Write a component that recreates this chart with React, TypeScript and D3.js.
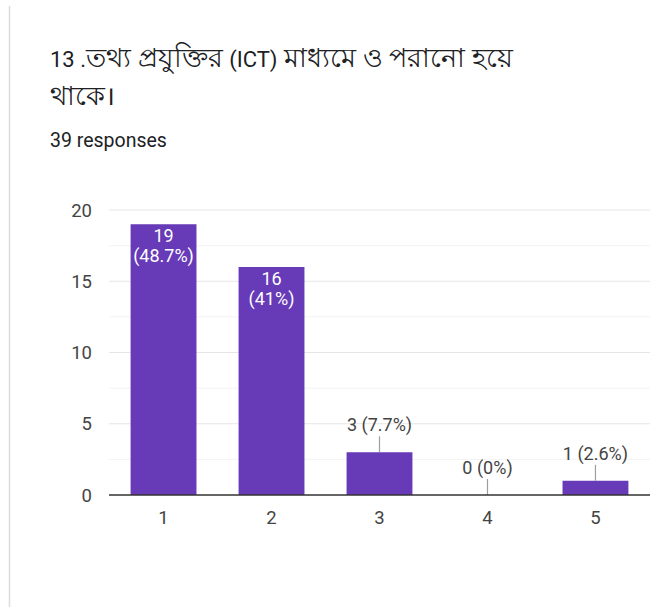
import React from "react";
import * as d3 from "d3";

const categories = ["1", "2", "3", "4", "5"];
const counts = [19, 16, 3, 0, 1];
const percents = ["48.7%", "41%", "7.7%", "0%", "2.6%"];
const yTicks = [0, 5, 10, 15, 20];
// title parts: [text, isBengali]
const titleLine1: [string, boolean][] = [
  ["13 .", false],
  ["তথ্য প্রযুক্তির ", true],
  ["(ICT)", false],
  [" মাধ্যমে ও পরানো হয়ে", true],
];
const titleLine2 = "থাকে।";
const responsesText = "39 responses";

const W = 659;
const H = 607;
const plot = { left: 109, right: 650, top: 210, bottom: 495 };
const FONT = "Roboto, 'Noto Sans', sans-serif";

export default function App() {
  const x = d3
    .scaleBand<string>()
    .domain(categories)
    .range([plot.left, plot.right])
    .paddingInner(0.39)
    .paddingOuter(0.2);
  const y = d3.scaleLinear().domain([0, 20]).range([plot.bottom, plot.top]);
  const minorTicks = d3.range(2.5, 20, 5);

  return (
    <svg
      width={W}
      height={H}
      style={{ position: "absolute", left: 0, top: 0, background: "#fff" }}
      fontFamily={FONT}
    >
      <rect x={0} y={0} width={W} height={H} fill="#fff" />
      <line x1={9.5} x2={9.5} y1={6} y2={H} stroke="#dadce0" strokeWidth={1.5} />
      <text x={50} y={67} fill="#202124">
        {titleLine1.map(([t, bn], i) => (
          <tspan key={i} fontSize={bn ? 26.5 : 22}>{t}</tspan>
        ))}
      </text>
      <text x={50} y={105} fontSize={26.5} fill="#202124">{titleLine2}</text>
      <text x={50} y={147} fontSize={19.5} fill="#202124">{responsesText}</text>

      {minorTicks.map((t) => (
        <line key={"m" + t} x1={plot.left} x2={plot.right} y1={y(t)} y2={y(t)} stroke="#f3f3f3" />
      ))}
      {yTicks.map((t) => (
        <g key={"t" + t}>
          {t > 0 && (
            <line x1={plot.left} x2={plot.right} y1={y(t)} y2={y(t)} stroke="#e6e6e6" />
          )}
          <text x={92} y={y(t)} dy="0.36em" textAnchor="end" fontSize={18.5} fill="#444">
            {t}
          </text>
        </g>
      ))}

      {categories.map((c, i) => {
        const v = counts[i];
        const bx = x(c)!;
        const bw = x.bandwidth();
        const cx = bx + bw / 2;
        const inside = y(0) - y(v) > 50;
        return (
          <g key={c}>
            {v > 0 && (
              <rect x={bx} y={y(v)} width={bw} height={y(0) - y(v)} fill="#673ab7" />
            )}
            {inside ? (
              <>
                <text x={cx} y={y(v) + 18} textAnchor="middle" fontSize={18} fill="#fff">
                  {v}
                </text>
                <text x={cx} y={y(v) + 38} textAnchor="middle" fontSize={18} fill="#fff">
                  ({percents[i]})
                </text>
              </>
            ) : (
              <>
                <line x1={cx} x2={cx} y1={y(v)} y2={y(v) - 16} stroke="#9e9e9e" strokeWidth={1.2} />
                <text x={cx} y={y(v) - 21} textAnchor="middle" fontSize={18} fill="#444">
                  {v} ({percents[i]})
                </text>
              </>
            )}
            <text x={cx} y={524} textAnchor="middle" fontSize={18.5} fill="#444">
              {c}
            </text>
          </g>
        );
      })}
      <line x1={plot.left} x2={plot.right} y1={y(0)} y2={y(0)} stroke="#333" strokeWidth={1.5} />
    </svg>
  );
}
